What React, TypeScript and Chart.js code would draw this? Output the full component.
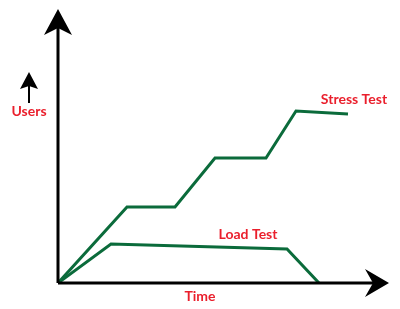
import React, { useEffect, useRef } from "react";
import { Chart, registerables } from "chart.js";

Chart.register(...registerables);

// Time units along x, user counts along y
const stressTime = [0, 69, 117, 157, 208, 238, 290];
const stressUsers = [0, 76, 76, 125, 125, 172, 169];
const loadTime = [0, 53, 229, 261];
const loadUsers = [0, 39, 34, 0];
const seriesNames = ["Stress Test", "Load Test"];
const axisTitles = ["Time", "Users"];

const GREEN = "#0b6b3b";
const RED = "#ea1f2c";

const annotations = {
  id: "annotations",
  afterDraw(chart: any) {
    const { ctx, chartArea, scales } = chart;
    const x = scales.x;
    const y = scales.y;
    const ox = x.getPixelForValue(0);
    const oy = y.getPixelForValue(0);
    ctx.save();
    // axes
    ctx.strokeStyle = "#000";
    ctx.fillStyle = "#000";
    ctx.lineWidth = 3;
    ctx.beginPath();
    ctx.moveTo(ox, oy);
    ctx.lineTo(ox, chartArea.top + 15);
    ctx.moveTo(ox, oy);
    ctx.lineTo(chartArea.right - 15, oy);
    ctx.stroke();
    // y arrowhead
    const ty = chartArea.top - 1;
    ctx.beginPath();
    ctx.moveTo(ox, ty);
    ctx.lineTo(ox - 14, ty + 26);
    ctx.lineTo(ox, ty + 19);
    ctx.lineTo(ox + 14, ty + 26);
    ctx.closePath();
    ctx.fill();
    // x arrowhead
    const tx = chartArea.right + 1;
    ctx.beginPath();
    ctx.moveTo(tx, oy);
    ctx.lineTo(tx - 24, oy - 14);
    ctx.lineTo(tx - 16, oy);
    ctx.lineTo(tx - 24, oy + 14);
    ctx.closePath();
    ctx.fill();
    // small users arrow
    ctx.lineWidth = 2;
    ctx.beginPath();
    ctx.moveTo(29, 103);
    ctx.lineTo(29, 80);
    ctx.stroke();
    ctx.beginPath();
    ctx.moveTo(29, 72);
    ctx.lineTo(20, 89);
    ctx.lineTo(29, 86);
    ctx.lineTo(38, 89);
    ctx.closePath();
    ctx.fill();
    // labels
    ctx.fillStyle = RED;
    ctx.font = "bold 14px Lato, sans-serif";
    ctx.textAlign = "center";
    ctx.textBaseline = "middle";
    ctx.fillText(axisTitles[1], 29, 111);
    ctx.fillText(axisTitles[0], x.getPixelForValue(142), oy + 13);
    ctx.fillText(seriesNames[0], x.getPixelForValue(296), y.getPixelForValue(184));
    ctx.fillText(seriesNames[1], x.getPixelForValue(190), y.getPixelForValue(49));
    ctx.restore();
  },
};

export default function App() {
  const ref = useRef<HTMLCanvasElement>(null);
  useEffect(() => {
    if (!ref.current) return;
    const chart = new Chart(ref.current, {
      type: "line",
      data: {
        datasets: [
          {
            label: seriesNames[0],
            data: stressTime.map((t, i) => ({ x: t, y: stressUsers[i] })),
            borderColor: GREEN,
            borderWidth: 3,
            pointRadius: 0,
            tension: 0,
          },
          {
            label: seriesNames[1],
            data: loadTime.map((t, i) => ({ x: t, y: loadUsers[i] })),
            borderColor: GREEN,
            borderWidth: 3,
            pointRadius: 0,
            tension: 0,
          },
        ],
      },
      options: {
        animation: false,
        responsive: false,
        layout: { padding: { left: 58, right: 12, top: 10, bottom: 26 } },
        plugins: { legend: { display: false }, tooltip: { enabled: false } },
        scales: {
          x: { type: "linear", min: 0, max: 330, display: false },
          y: { type: "linear", min: 0, max: 273, display: false },
        },
      },
      plugins: [annotations],
    });
    return () => chart.destroy();
  }, []);
  return (
    <div style={{ position: "fixed", left: 0, top: 0, width: 400, height: 309, background: "#fff" }}>
      <canvas ref={ref} width={400} height={309} />
    </div>
  );
}
